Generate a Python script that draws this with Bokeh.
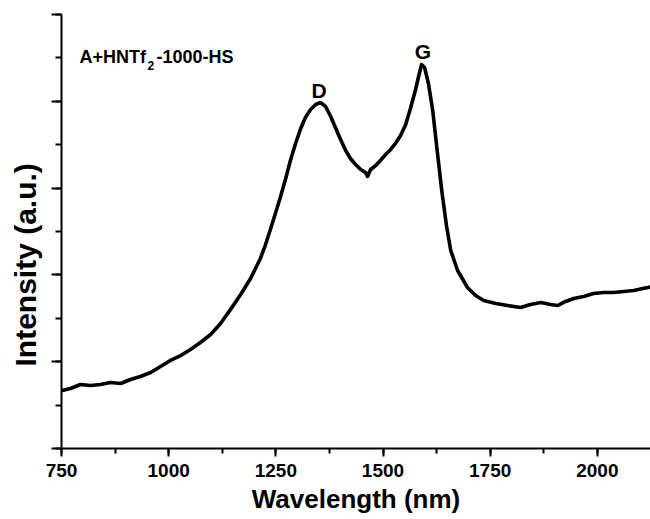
from bokeh.plotting import figure
from bokeh.models import SingleIntervalTicker, CustomJSTickFormatter, Label, Range1d
from bokeh.embed import file_html
from bokeh.resources import INLINE

# ---- data ----
wavelength = [752, 771, 794, 818, 841, 864, 888, 911, 934, 958, 981, 1004, 1028, 1051,
              1074, 1098, 1121, 1144, 1168, 1191, 1214, 1226, 1238, 1249, 1261, 1273,
              1284, 1296, 1308, 1319, 1331, 1343, 1354, 1366, 1378, 1389, 1401, 1413,
              1424, 1436, 1448, 1459, 1464, 1471, 1483, 1494, 1506, 1518, 1529, 1541,
              1553, 1564, 1576, 1583, 1590, 1597, 1606, 1616, 1625, 1637, 1648, 1658,
              1674, 1697, 1716, 1735, 1763, 1791, 1821, 1844, 1868, 1891, 1907, 1926,
              1945, 1968, 1991, 2015, 2038, 2061, 2085, 2106, 2124]
intensity = [0.668, 0.691, 0.737, 0.726, 0.737, 0.760, 0.749, 0.795, 0.829, 0.876,
             0.945, 1.014, 1.071, 1.141, 1.221, 1.313, 1.440, 1.600, 1.774, 1.959,
             2.189, 2.350, 2.535, 2.707, 2.903, 3.111, 3.318, 3.514, 3.687, 3.813,
             3.906, 3.963, 3.986, 3.940, 3.825, 3.698, 3.560, 3.433, 3.341, 3.272,
             3.214, 3.180, 3.134, 3.214, 3.260, 3.318, 3.387, 3.445, 3.514, 3.606,
             3.733, 3.917, 4.136, 4.286, 4.424, 4.389, 4.205, 3.894, 3.491, 2.972,
             2.569, 2.281, 2.051, 1.855, 1.763, 1.705, 1.671, 1.647, 1.624, 1.659,
             1.682, 1.659, 1.647, 1.694, 1.728, 1.751, 1.786, 1.797, 1.797, 1.809,
             1.820, 1.843, 1.860]

x_ticks_interval = 250
y_ticks_interval = 1

x_title = "Wavelength (nm)"
y_title = "Intensity (a.u.)"
sample_name = ["A+HNTf", "2", "-1000-HS"]
peak_names = ["D", "G"]
peak_pos = [1351, 1593]
peak_label_y = [4.124, 4.568]

FONT = "Liberation Sans"

p = figure(width=650, height=519, output_backend="svg", toolbar_location=None,
           x_range=Range1d(750, 2124), y_range=Range1d(0, 5),
           min_border_left=61, min_border_right=0, min_border_top=14,
           min_border_bottom=71)
p.outline_line_color = None
p.xgrid.visible = False
p.ygrid.visible = False
p.background_fill_color = "white"
p.border_fill_color = "white"

p.line(wavelength, intensity, line_color="black", line_width=3.6,
       line_join="round", line_cap="round")

# x axis
xa = p.xaxis[0]
xa.ticker = SingleIntervalTicker(interval=x_ticks_interval, num_minor_ticks=2)
xa.axis_line_width = 2
xa.axis_line_color = "black"
xa.major_tick_line_width = 2
xa.minor_tick_line_width = 2
xa.major_tick_line_color = "black"
xa.minor_tick_line_color = "black"
xa.major_tick_out = 8
xa.major_tick_in = 0
xa.minor_tick_out = 5
xa.minor_tick_in = 0
xa.major_label_text_font = FONT
xa.major_label_text_font_style = "bold"
xa.major_label_text_font_size = "19px"
xa.major_label_text_color = "black"
xa.major_label_standoff = 7
xa.axis_label = x_title
xa.axis_label_text_font = FONT
xa.axis_label_text_font_style = "bold"
xa.axis_label_text_font_size = "26px"
xa.axis_label_text_color = "black"
xa.axis_label_standoff = 4

# y axis
ya = p.yaxis[0]
ya.ticker = SingleIntervalTicker(interval=y_ticks_interval, num_minor_ticks=2)
ya.formatter = CustomJSTickFormatter(code="return ''")
ya.axis_line_width = 2
ya.axis_line_color = "black"
ya.major_tick_line_width = 2
ya.minor_tick_line_width = 2
ya.major_tick_line_color = "black"
ya.minor_tick_line_color = "black"
ya.major_tick_out = 10
ya.major_tick_in = 0
ya.minor_tick_out = 6
ya.minor_tick_in = 0
ya.major_label_standoff = 0
ya.axis_label = y_title + "\u00a0" * 8
ya.axis_label_text_font = FONT
ya.axis_label_text_font_style = "bold"
ya.axis_label_text_font_size = "30px"
ya.axis_label_text_color = "black"
ya.axis_label_standoff = 10

# sample name with subscript
p.add_layout(Label(x=792, y=4.508, text=sample_name[0], text_font=FONT,
                   text_font_style="bold", text_font_size="18px", text_color="black",
                   text_baseline="alphabetic"))
p.add_layout(Label(x=792, y=4.508, x_offset=68, y_offset=-8, text=sample_name[1],
                   text_font=FONT, text_font_style="bold", text_font_size="12px",
                   text_color="black", text_baseline="alphabetic"))
p.add_layout(Label(x=792, y=4.508, x_offset=77, text=sample_name[2], text_font=FONT,
                   text_font_style="bold", text_font_size="18px", text_color="black",
                   text_baseline="alphabetic"))

# peak labels
for name, px, py in zip(peak_names, peak_pos, peak_label_y):
    p.add_layout(Label(x=px, y=py, text=name, text_font=FONT, text_font_style="bold",
                       text_font_size="21px", text_color="black", text_align="center",
                       text_baseline="alphabetic"))

open("out.html", "w").write(file_html(p, INLINE))
